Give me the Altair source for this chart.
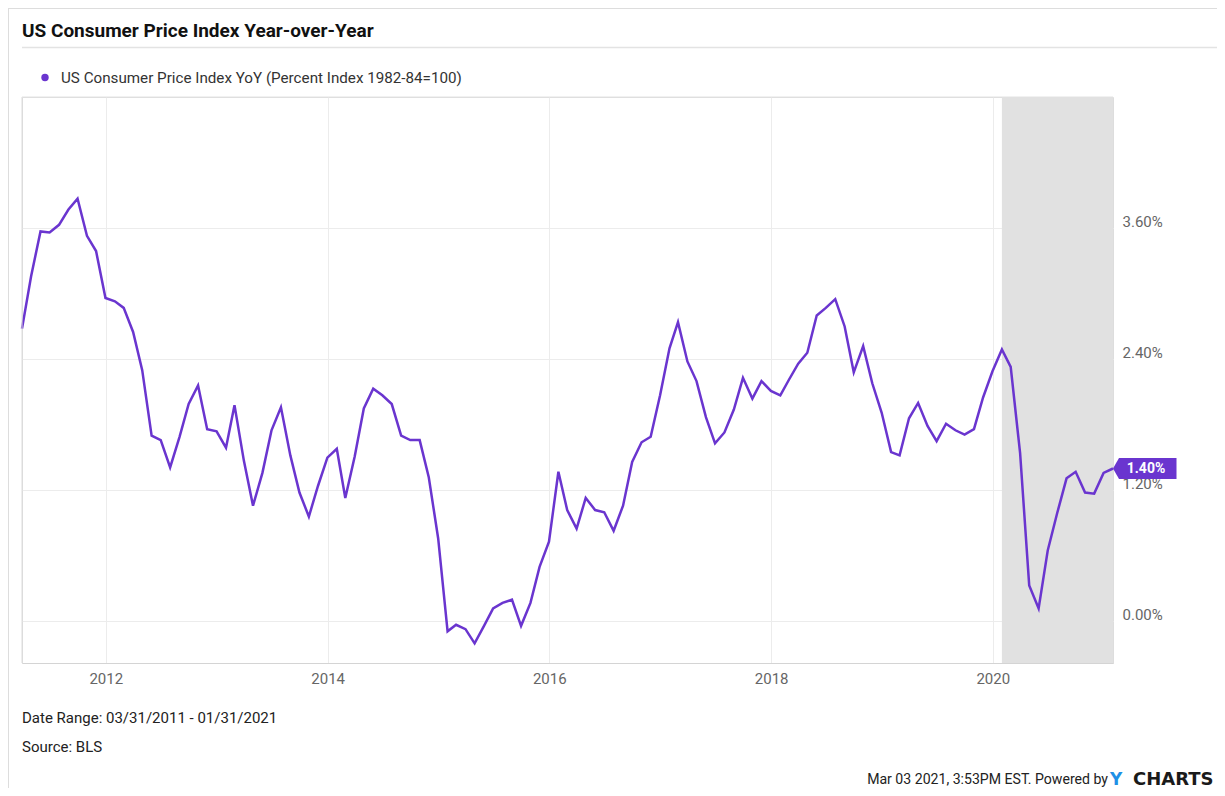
import altair as alt
import pandas as pd

# ---------------- data ----------------
TITLE = "US Consumer Price Index Year-over-Year"
SERIES_NAME = "US Consumer Price Index YoY (Percent Index 1982-84=100)"
DATE_RANGE = "Date Range: 03/31/2011 - 01/31/2021"
SOURCE = "Source: BLS"
STAMP = "Mar 03 2021, 3:53PM EST. Powered by"

first_month = "2011-03"
cpi_2011 = [2.68, 3.16, 3.57, 3.56, 3.63, 3.77, 3.87, 3.53, 3.39, 2.96]
cpi_2012 = [2.93, 2.87, 2.65, 2.30, 1.70, 1.66, 1.41, 1.69, 1.99, 2.16, 1.76, 1.74]
cpi_2013 = [1.59, 1.98, 1.47, 1.06, 1.36, 1.75, 1.96, 1.52, 1.18, 0.96, 1.24, 1.50]
cpi_2014 = [1.58, 1.13, 1.51, 1.95, 2.13, 2.07, 1.99, 1.70, 1.66, 1.66, 1.32, 0.76]
cpi_2015 = [-0.09, -0.03, -0.07, -0.20, -0.04, 0.12, 0.17, 0.20, -0.04, 0.17, 0.50, 0.73]
cpi_2016 = [1.37, 1.02, 0.85, 1.13, 1.02, 1.00, 0.83, 1.06, 1.46, 1.64, 1.69, 2.07]
cpi_2017 = [2.50, 2.74, 2.38, 2.20, 1.87, 1.63, 1.73, 1.94, 2.23, 2.04, 2.20, 2.11]
cpi_2018 = [2.07, 2.21, 2.36, 2.46, 2.80, 2.87, 2.95, 2.70, 2.28, 2.52, 2.18, 1.91]
cpi_2019 = [1.55, 1.52, 1.86, 2.00, 1.79, 1.65, 1.81, 1.75, 1.71, 1.76, 2.05, 2.29]
cpi_2020 = [2.49, 2.33, 1.54, 0.33, 0.12, 0.65, 0.99, 1.31, 1.37, 1.18, 1.17, 1.36]
cpi_2021 = [1.40]

recession_start = "2020-01-31"
recession_end = "2021-01-31"

year_ticks = [2012, 2014, 2016, 2018, 2020]
y_ticks = [0.0, 1.2, 2.4, 3.6]

# ---------------- build tables ----------------
cpi = (cpi_2011 + cpi_2012 + cpi_2013 + cpi_2014 + cpi_2015 + cpi_2016
       + cpi_2017 + cpi_2018 + cpi_2019 + cpi_2020 + cpi_2021)
periods = pd.period_range(first_month, periods=len(cpi), freq="M")
dates = [p.end_time.strftime("%Y-%m-%d") for p in periods]
df = pd.DataFrame({"date": dates, "cpi": cpi})
last = df.tail(1).copy()
last["label"] = last["cpi"].map(lambda v: f"{v:.2f}%")
band = pd.DataFrame({"start": [recession_start], "end": [recession_end]})

PURPLE = "#6a35cf"
W, H = 1091, 566
FONT = "Roboto"

x_scale = alt.Scale(
    type="utc",
    domain=[alt.DateTime(year=2011, month=3, date=31, utc=True),
            alt.DateTime(year=2021, month=1, date=31, utc=True)],
)
y_scale = alt.Scale(domain=[-0.38, 4.8], nice=False, zero=False)

x_axis = alt.Axis(
    values=[alt.DateTime(year=y, month=1, date=1, utc=True) for y in year_ticks],
    format="%Y", title=None, ticks=False, domain=True, domainColor="#d4d4d4",
    grid=True, gridColor="#ececec", labelColor="#666666", labelFontSize=15,
    labelPadding=8, labelFont=FONT,
)
y_axis = alt.Axis(
    orient="right", values=y_ticks, title=None, ticks=False, domain=False,
    grid=True, gridColor="#ececec", labelColor="#666666", labelFontSize=15,
    labelPadding=9, labelOffset=-7, labelBaseline="middle", labelAlign="left",
    labelExpr="format(datum.value, '.2f') + '%'", labelFont=FONT,
)

base_line = alt.Chart(df).mark_line(color=PURPLE, strokeWidth=2.5).encode(
    x=alt.X("date:T", scale=x_scale, axis=x_axis),
    y=alt.Y("cpi:Q", scale=y_scale, axis=y_axis),
)

band_layer = alt.Chart(band).mark_rect(color="#e1e1e1").encode(
    x=alt.X("start:T", scale=x_scale),
    x2="end:T",
    y=alt.value(0),
    y2=alt.value(H),
)

one = alt.Data(values=[{}])

left_border = alt.Chart(one).mark_rule(color="#dcdcdc", strokeWidth=1).encode(
    x=alt.value(0), y=alt.value(0), y2=alt.value(H))
top_border = alt.Chart(one).mark_rule(color="#e2e2e2", strokeWidth=1).encode(
    x=alt.value(0), x2=alt.value(W), y=alt.value(0))

card_top = alt.Chart(one).mark_rule(color="#dddddd", strokeWidth=1).encode(
    x=alt.value(-14), x2=alt.value(1203), y=alt.value(-88.5))
card_left = alt.Chart(one).mark_rule(color="#dddddd", strokeWidth=1).encode(
    x=alt.value(-13.5), y=alt.value(-89), y2=alt.value(700))
title_sep = alt.Chart(one).mark_rule(color="#e3e3e3", strokeWidth=1.5).encode(
    x=alt.value(0), x2=alt.value(1196), y=alt.value(-49.5))

title = alt.Chart(one).mark_text(
    text=TITLE, font=FONT, fontSize=19, fontWeight="bold", color="#111111",
    align="left", baseline="alphabetic").encode(x=alt.value(0), y=alt.value(-60.5))

legend_dot = alt.Chart(one).mark_point(
    shape="circle", filled=True, size=55, color=PURPLE, opacity=1).encode(
    x=alt.value(23), y=alt.value(-19.5))
legend_text = alt.Chart(one).mark_text(
    text=SERIES_NAME, font=FONT, fontSize=15.2, color="#333333",
    align="left", baseline="middle").encode(x=alt.value(39), y=alt.value(-19))

badge = alt.Chart(last).mark_point(
    shape="M0,0L6,-10.5L63.5,-10.5L63.5,10.5L6,10.5Z", filled=True, size=4,
    color=PURPLE, opacity=1, strokeWidth=0).encode(
    x=alt.X("date:T", scale=x_scale), y=alt.Y("cpi:Q", scale=y_scale))
badge_text = alt.Chart(last).mark_text(
    font=FONT, fontSize=14, fontWeight="bold", color="white", dx=33, dy=0.5,
    align="center", baseline="middle").encode(
    x=alt.X("date:T", scale=x_scale), y=alt.Y("cpi:Q", scale=y_scale),
    text="label:N")

foot1 = alt.Chart(one).mark_text(
    text=DATE_RANGE, font=FONT, fontSize=15, color="#222222",
    align="left", baseline="middle").encode(x=alt.value(0), y=alt.value(621))
foot2 = alt.Chart(one).mark_text(
    text=SOURCE, font=FONT, fontSize=15, color="#222222",
    align="left", baseline="middle").encode(x=alt.value(0), y=alt.value(650))
stamp = alt.Chart(one).mark_text(
    text=STAMP, font=FONT, fontSize=14.1, color="#222222",
    align="right", baseline="middle").encode(x=alt.value(1086), y=alt.value(683))
logo_y = alt.Chart(one).mark_text(
    text="Y", font="DejaVu Sans", fontSize=17, fontWeight="bold", color="#1e90e6",
    align="left", baseline="middle").encode(x=alt.value(1088), y=alt.value(683))
logo_rest = alt.Chart(one).mark_text(
    text="CHARTS", font="DejaVu Sans", fontSize=18, fontWeight="bold", color="#1a1a1a",
    align="left", baseline="middle").encode(x=alt.value(1111), y=alt.value(683))

chart = alt.layer(
    band_layer, base_line, left_border, top_border, badge, badge_text,
    card_top, card_left, title_sep, title, legend_dot, legend_text,
    foot1, foot2, stamp, logo_y, logo_rest,
).properties(
    width=W, height=H,
    padding={"left": 14, "top": 89, "right": 104, "bottom": 125},
    autosize=alt.AutoSizeParams(type="none"),
).configure_view(stroke=None).configure(font=FONT)

chart.save("out.html", embed_options={"renderer": "svg", "actions": False})
